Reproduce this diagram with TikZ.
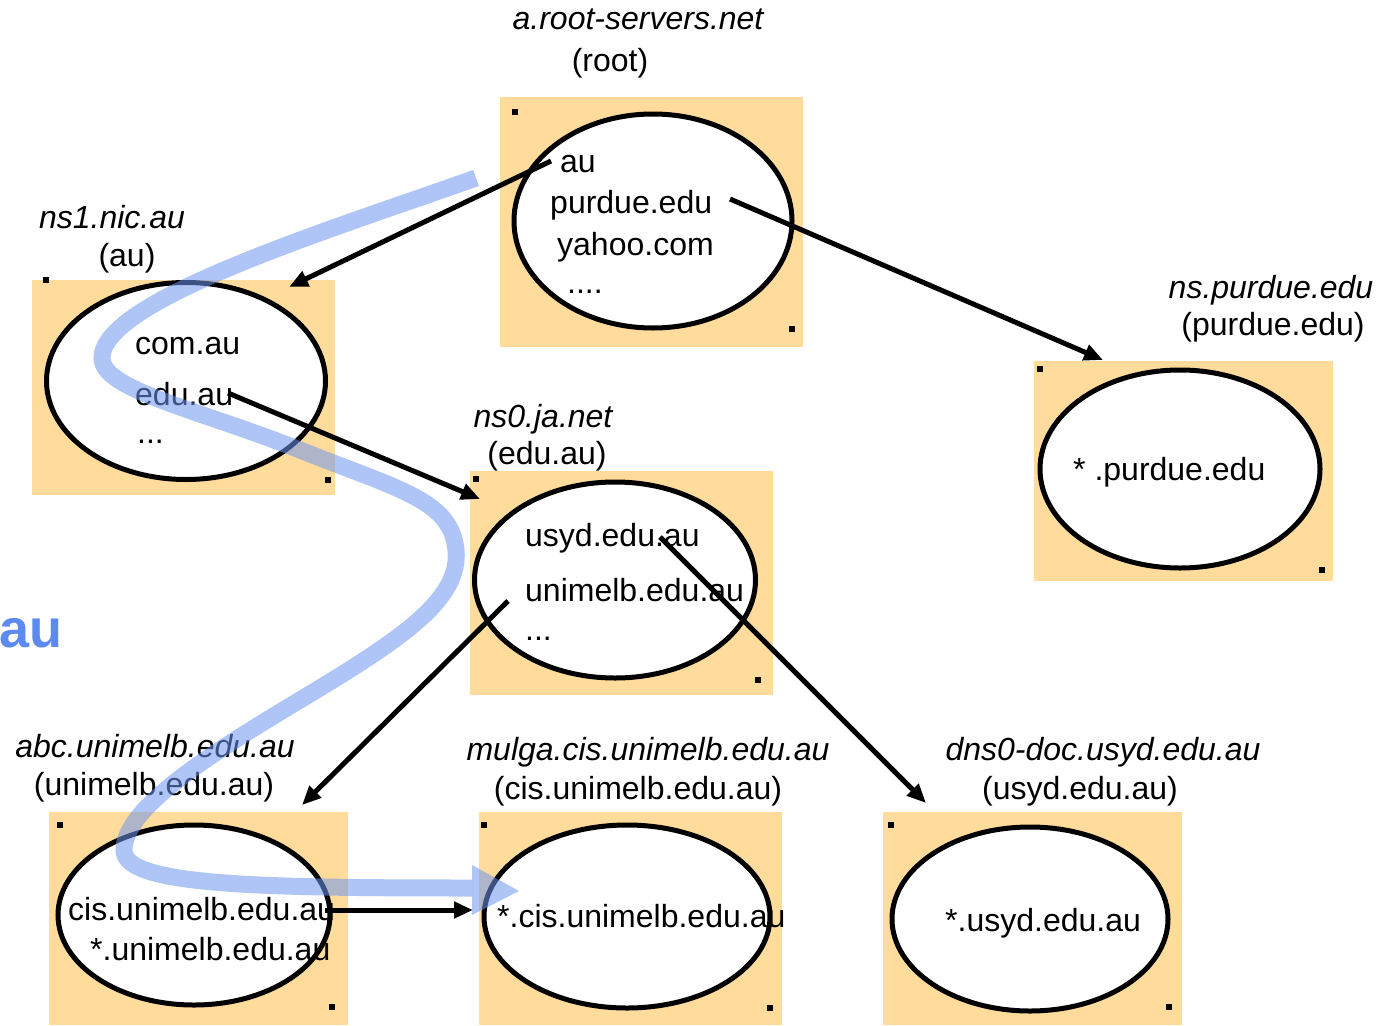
\documentclass[tikz,border=0pt]{standalone}
\usepackage{fontspec}
\setmainfont{Liberation Sans}
\usetikzlibrary{shapes.geometric,arrows.meta}
\definecolor{boxorange}{RGB}{255,220,155}
\definecolor{pathblue}{RGB}{110,150,240}
\definecolor{aublue}{RGB}{92,138,240}
\begin{document}
\begin{tikzpicture}[x=1pt,y=-1pt,
  zone/.style={fill=boxorange, inner sep=0pt},
  server/.style={ellipse, draw=black, line width=5pt, fill=white, inner sep=0pt},
  txt/.style={anchor=base west, inner sep=0pt, font=\fontsize{32}{38}\selectfont},
  lbl/.style={anchor=base, inner sep=0pt, font=\fontsize{32}{38}\selectfont\itshape},
  lblp/.style={anchor=base, inner sep=0pt, font=\fontsize{32}{38}\selectfont},
  handle/.style={fill=black},
  link/.style={line width=5pt, -{Triangle[length=19pt,width=16pt]}},
  route/.style={draw=pathblue, line width=17pt, draw opacity=0.55}
]
\useasboundingbox (0,0) rectangle (1394,1025);

% boxes
\node[zone, minimum width=303pt, minimum height=250pt] (rootbox) at (651.5,222) {};
\node[zone, minimum width=303pt, minimum height=215pt] (aubox) at (183.5,387.5) {};
\node[zone, minimum width=299pt, minimum height=220pt] (purduebox) at (1183.5,471) {};
\node[zone, minimum width=303pt, minimum height=224pt] (edubox) at (621.5,583) {};
\node[zone, minimum width=299pt, minimum height=213pt] (unimelbbox) at (198.5,918.5) {};
\node[zone, minimum width=303pt, minimum height=213pt] (cisbox) at (630.5,918.5) {};
\node[zone, minimum width=299pt, minimum height=213pt] (usydbox) at (1032.5,918.5) {};

% handles
\foreach \x/\y in {515/112, 792/329, 46/280, 328/480, 1040/369, 1322/570, 476/479, 758/680, 60/825, 332/1007, 484/825, 770/1008, 891/825, 1169/1007}
  \fill[handle] (\x-3,\y-3) rectangle (\x+3,\y+3);

% ellipses
\node[server, minimum width=278pt, minimum height=214pt] (rootell) at (653,221) {};
\node[server, minimum width=279pt, minimum height=197pt] (auell) at (186,381) {};
\node[server, minimum width=280pt, minimum height=198pt] (purdueell) at (1180,469) {};
\node[server, minimum width=281pt, minimum height=196pt] (eduell) at (615,580) {};
\node[server, minimum width=272pt, minimum height=180pt] (unimelbell) at (194,915) {};
\node[server, minimum width=286pt, minimum height=183pt] (cisell) at (627,916.5) {};
\node[server, minimum width=276pt, minimum height=184pt] (usydell) at (1030,919) {};

% labels
\node[lbl] (l1a) at (638,30) {a.root-servers.net};
\node[lblp] (l1b) at (610,71) {(root)};
\node[lbl] (l2a) at (112,228) {ns1.nic.au};
\node[lblp] (l2b) at (127,266) {(au)};
\node[lbl] (l3a) at (1271,298) {ns.purdue.edu};
\node[lblp] (l3b) at (1273,335) {(purdue.edu)};
\node[lbl] (l4a) at (543,427) {ns0.ja.net};
\node[lblp] (l4b) at (547,464) {(edu.au)};
\node[lbl] (l5a) at (155,757) {abc.unimelb.edu.au};
\node[lblp] (l5b) at (154,795) {(unimelb.edu.au)};
\node[lbl] (l6a) at (648,760) {mulga.cis.unimelb.edu.au};
\node[lblp] (l6b) at (638,799) {(cis.unimelb.edu.au)};
\node[lbl] (l7a) at (1103,760) {dns0-doc.usyd.edu.au};
\node[lblp] (l7b) at (1080,799) {(usyd.edu.au)};

% contents
\node[txt] (r1) at (560,172) {au};
\node[txt] (r2) at (550,213) {purdue.edu};
\node[txt] (r3) at (557,255) {yahoo.com};
\node[txt] (r4) at (567,293) {....};
\node[txt] (a1) at (135,354) {com.au};
\node[txt] (a2) at (135,405) {edu.au};
\node[txt] (a3) at (137,443) {...};
\node[txt] (p1) at (1073,480) {* .purdue.edu};
\node[txt] (e1) at (525,546) {usyd.edu.au};
\node[txt] (e2) at (525,601) {unimelb.edu.au};
\node[txt] (e3) at (525,640) {...};
\node[txt] (u1) at (68,920) {cis.unimelb.edu.au};
\node[txt] (u2) at (90,960) {*.unimelb.edu.au};
\node[txt] (c1) at (497,927) {*.cis.unimelb.edu.au};
\node[txt] (s1) at (945,931) {*.usyd.edu.au};

\node[anchor=base west, inner sep=0pt, text=aublue, font=\fontsize{54}{60}\selectfont\bfseries] (aulabel) at (-1,647) {au};

% connector end points
\coordinate (k1s) at (551,161);
\coordinate (k1e) at (289,287);
\coordinate (k2s) at (730,199);
\coordinate (k2e) at (1103,360);
\coordinate (k3s) at (228,393);
\coordinate (k3e) at (480,499);
\coordinate (k4s) at (508,601);
\coordinate (k4e) at (302,805);
\coordinate (k5s) at (660,537);
\coordinate (k5e) at (926,803);
\coordinate (k6s) at (325,910);
\coordinate (k6e) at (473,910);

\draw[link] (k1s) -- (k1e);
\draw[link] (k2s) -- (k2e);
\draw[link] (k3s) -- (k3e);
\draw[link] (k4s) -- (k4e);
\draw[link] (k5s) -- (k5e);
\draw[link] (k6s) -- (k6e);

% resolution path
\coordinate (qstart) at (476,178);
\coordinate (qend) at (472,888);
\draw[route] (qstart)
  .. controls (330,230) and (102,300) .. (102,358)
  .. controls (102,390) and (200,410) .. (300,450)
  .. controls (400,490) and (451,500) .. (456,550)
  .. controls (461,600) and (400,640) .. (300,700)
  .. controls (200,760) and (124,810) .. (124,850)
  .. controls (124,885) and (250,888) .. (qend);
\fill[pathblue, fill opacity=0.55] (472,865) -- (519,891) -- (472,915) -- cycle;
\end{tikzpicture}
\end{document}
